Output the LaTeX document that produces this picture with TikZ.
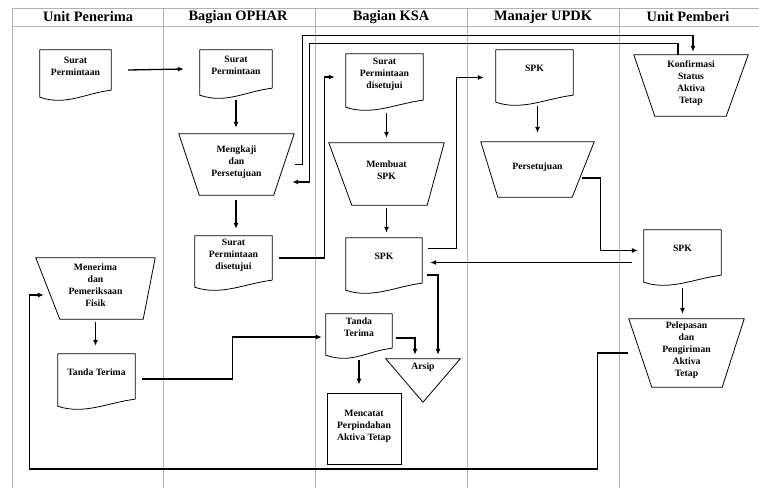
\documentclass[tikz,border=0pt]{standalone}
\usepackage{fontspec}
\setmainfont{Liberation Serif}
\usetikzlibrary{positioning, arrows.meta, calc}
\newcommand{\isifont}{\fontsize{9.7}{12}\selectfont\bfseries}
\newcommand{\judulfont}{\fontsize{14.4}{16}\selectfont\bfseries}
\tikzset{
  lajur/.style={gray!60, line width=0.8pt},
  judul/.style={font=\judulfont, inner sep=0pt},
  dokumen/.style={rectangle, align=center, font=\isifont, inner sep=1pt, text depth=8pt},
  proses/.style={rectangle, align=center, font=\isifont, inner sep=1pt, text depth=7pt},
  kotak/.style={draw, line width=0.8pt, align=center, font=\isifont, inner sep=1pt, text depth=7pt},
  bentuk/.style={line width=0.8pt},
  panah/.style={-{Latex[length=6pt, width=5pt]}, line width=1.3pt},
  garis/.style={line width=1.3pt}
}

\begin{document}
\begin{tikzpicture}[x=1pt, y=-1pt]
  \useasboundingbox (0,0) rectangle (759,488);
  % kerangka lajur
  \draw[lajur] (12,8) -- (759,8);
  \draw[lajur] (12,26) -- (759,26);
  \foreach \x in {12,163,315,467,619}
    \draw[lajur] (\x,8) -- (\x,488);
  \node[judul] (jPenerima) at (88,17) {Unit Penerima};
  \node[judul] (jOphar) at (238,17) {Bagian OPHAR};
  \node[judul] (jKsa) at (391,17) {Bagian KSA};
  \node[judul] (jUpdk) at (543,17) {Manajer UPDK};
  \node[judul] (jPemberi) at (688,17) {Unit Pemberi};

  % dokumen
  \node[dokumen, minimum width=71pt, minimum height=40pt] (dokA) at (75.5,70) {Surat\\Permintaan};
  \node[dokumen, minimum width=72pt, minimum height=38pt] (dokB) at (236,69) {Surat\\Permintaan};
  \node[dokumen, minimum width=77pt, minimum height=44pt] (dokC) at (233.5,258) {Surat\\Permintaan\\disetujui};
  \node[dokumen, minimum width=77pt, minimum height=46pt] (dokD) at (384.5,77) {Surat\\Permintaan\\disetujui};
  \node[dokumen, minimum width=76pt, minimum height=45pt] (dokE) at (384,260.5) {SPK};
  \node[dokumen, minimum width=77pt, minimum height=45pt] (dokF) at (534.5,72.5) {SPK};
  \node[dokumen, minimum width=77pt, minimum height=45pt] (dokG) at (682.5,252.5) {SPK};
  \node[dokumen, minimum width=77pt, minimum height=45pt] (dokH) at (96.5,376.5) {Tanda Terima};
  \node[dokumen, minimum width=66pt, minimum height=34pt] (dokI) at (359,331) {Tanda\\Terima};
  \foreach \d in {dokA,dokB,dokC,dokD,dokE,dokF,dokG,dokH,dokI}
    \draw[bentuk] (\d.south east) -- (\d.north east) -- (\d.north west) -- ([yshift=-7pt]\d.south west)
      .. controls +(26pt,-9pt) and +(-26pt,-3pt) .. (\d.south east);

  % proses manual
  \node[proses, minimum width=115pt, minimum height=61pt] (mengkaji) at (236.5,164.5) {Mengkaji\\dan\\Persetujuan};
  \node[proses, minimum width=115pt, minimum height=62pt] (membuat) at (386.5,174) {Membuat\\SPK};
  \node[proses, minimum width=113pt, minimum height=55pt] (persetujuan) at (537.5,169.5) {Persetujuan};
  \node[proses, minimum width=119pt, minimum height=61pt] (menerima) at (95.5,288.5) {Menerima\\dan\\Pemeriksaan\\Fisik};
  \node[proses, minimum width=114pt, minimum height=61pt] (konfirmasi) at (691,85.5) {Konfirmasi\\Status\\Aktiva\\Tetap};
  \node[proses, minimum width=115pt, minimum height=68pt] (pelepasan) at (686.5,353) {Pelepasan\\dan\\Pengiriman\\Aktiva\\Tetap};
  \foreach \t/\l/\r in {mengkaji/20.5/20.5, membuat/23/17, persetujuan/17/22, menerima/24/12, konfirmasi/21/22, pelepasan/23/22}
    \draw[bentuk] (\t.north west) -- (\t.north east) -- ([xshift=-\r]\t.south east) -- ([xshift=\l]\t.south west) -- cycle;

  \node[kotak, minimum width=74pt, minimum height=71pt] (mencatat) at (364,428.5) {Mencatat\\Perpindahan\\Aktiva Tetap};
  \node[proses, minimum width=74pt, minimum height=43pt, text depth=0pt,
    label={[font=\isifont, anchor=north, inner sep=0pt, yshift=-4pt]north:Arsip}] (arsip) at (423,380.5) {};
  \draw[bentuk] (arsip.north west) -- (arsip.north east) -- (arsip.south) -- cycle;

  % aliran
  \draw[panah] ([xshift=17pt]dokA.east) -- ([xshift=-16pt]dokB.west);
  \draw[panah] ([yshift=-12pt]dokB.south) -- ([yshift=6pt]mengkaji.north -| dokB.south);
  \draw[panah] ([yshift=-5pt]mengkaji.south -| dokB.south) -- ([yshift=7pt]dokC.north -| dokB.south);
  \draw[panah] ([xshift=7pt]dokC.east) -| ([xshift=-21pt]dokD.west) -- ([xshift=-11pt]dokD.west);
  \draw[panah] ([yshift=-13pt]dokD.south -| membuat.north) -- ([yshift=5pt]membuat.north);
  \draw[panah] ([yshift=-3pt]membuat.south -| membuat.north) -- ([yshift=5pt]dokE.north -| membuat.north);
  \draw[panah] ([shift={(6pt,12pt)}]dokE.east) -| ([shift={(-39pt,-5pt)}]dokF.west) -- ([shift={(-12pt,-5pt)}]dokF.west);
  \draw[panah] ([yshift=-11pt]dokF.south -| persetujuan.north) -- ([yshift=9pt]persetujuan.north);
  \draw[panah] ([shift={(-12pt,-8.5pt)}]persetujuan.east) -| ([shift={(-43pt,2pt)}]dokG.west) -- ([shift={(-6pt,2pt)}]dokG.west);
  \draw[panah] ([shift={(-12pt,-10pt)}]dokG.west) coordinate (kembali) -- ([xshift=8pt]dokE.east |- kembali);
  \draw[panah] ([yshift=-13pt]dokG.south) -- ([yshift=5pt]pelepasan.north -| dokG.south);
  \draw[panah] ([xshift=-1pt]pelepasan.west) -- ++(-30,0) -- ++(0,116)
    -| ([shift={(-6pt,-6.5pt)}]menerima.west) -- ([shift={(8pt,-6.5pt)}]menerima.west);
  \draw[panah] ([yshift=-3pt]menerima.south) -- ([yshift=8pt]dokH.north -| menerima.south);
  \draw[panah] ([shift={(7pt,-2.5pt)}]dokH.east) -- ++(90,0) |- ([shift={(-4pt,-6pt)}]dokI.west);
  \draw[panah] ([yshift=-12pt]dokI.south) -- ([yshift=8pt]mencatat.north -| dokI.south);
  \draw[panah] ([shift={(4pt,-7pt)}]dokI.east) -| ([shift={(-8pt,4pt)}]arsip.north);
  \draw[panah] ([shift={(5pt,-14.5pt)}]dokE.east) -| ([shift={(15pt,4pt)}]arsip.north);
  % konfirmasi status
  \draw[panah] ([xshift=1pt]mengkaji.east) -- ++(7,0) |- ([shift={(2pt,19pt)}]konfirmasi.north) -- ([shift={(2pt,3pt)}]konfirmasi.north);
  \draw[panah] ([xshift=-13pt]konfirmasi.north) -- ++(0,-11) -| ([shift={(15pt,-17.5pt)}]mengkaji.east) -- ([shift={(-2pt,-17.5pt)}]mengkaji.east);
\end{tikzpicture}
\end{document}
